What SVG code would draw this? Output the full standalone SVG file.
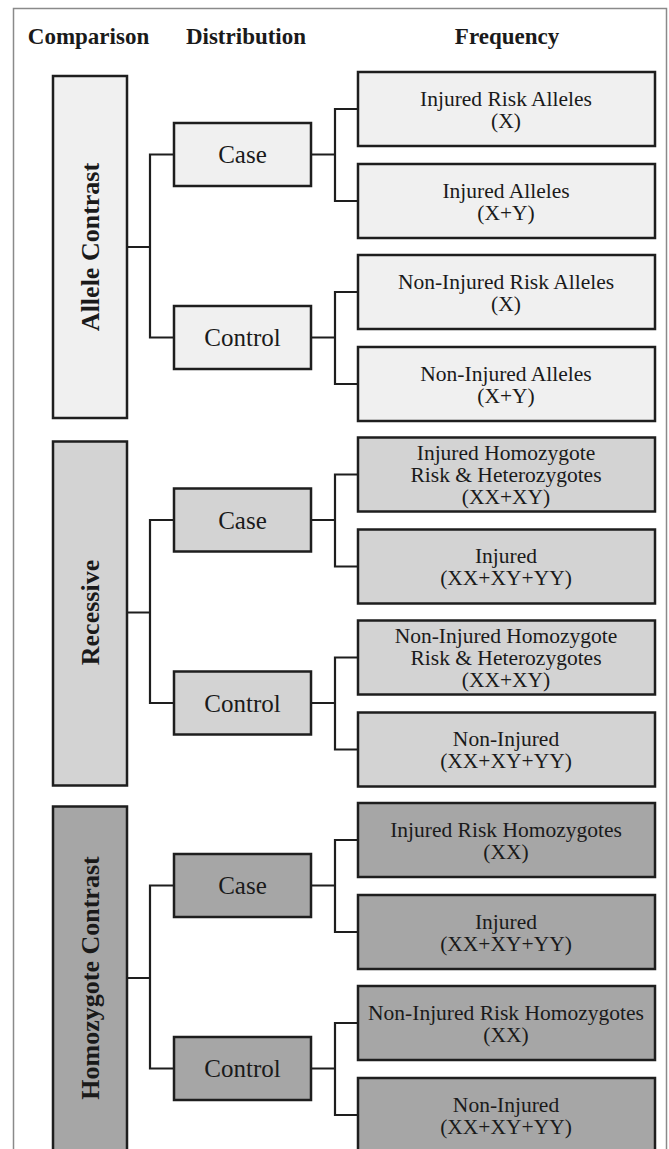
<svg xmlns="http://www.w3.org/2000/svg" width="669" height="1149" viewBox="0 0 669 1149">
<style>
.bx{stroke:#1e1e1e;stroke-width:2.5}
.s1{fill:#f0f0f0}.s2{fill:#d3d3d3}.s3{fill:#a6a6a6}
.t{fill:#1a1a1a;text-anchor:middle}
.f{font-size:21.5px}.d{font-size:25px}
.h{font-size:23px;font-weight:bold}
.c{font-size:26px;font-weight:bold}
.ln{fill:none;stroke:#1e1e1e;stroke-width:2.2}
</style>
<rect width="669" height="1149" fill="#ffffff"/>
<rect x="13.5" y="8.5" width="653" height="1170" fill="none" stroke="#8a8a8a" stroke-width="1.5"/>
<g font-family="'Liberation Serif', 'DejaVu Serif', serif">
<g id="headers">
<text class="t h" x="88.5" y="44">Comparison</text>
<text class="t h" x="246" y="44">Distribution</text>
<text class="t h" x="507" y="44">Frequency</text>
</g>
<g id="connectors">
<g transform="translate(0,72)">
<path class="ln" d="M127 175H150M174 82.5H150V265.5H174M311 82.5H335M357 37H335V129H357M311 265.5H335M357 220H335V312H357"/>
</g>
<g transform="translate(0,437.5)">
<path class="ln" d="M127 175H150M174 82.5H150V265.5H174M311 82.5H335M357 37H335V129H357M311 265.5H335M357 220H335V312H357"/>
</g>
<g transform="translate(0,803)">
<path class="ln" d="M127 175H150M174 82.5H150V265.5H174M311 82.5H335M357 37H335V129H357M311 265.5H335M357 220H335V312H357"/>
</g>
</g>
<g id="allele-contrast">
<rect class="bx s1" x="53" y="76" width="74" height="342"/>
<text class="t c" transform="translate(99,247) rotate(-90)">Allele Contrast</text>
</g>
<g id="ac-case">
<rect class="bx s1" x="174" y="123" width="137" height="63"/>
<text class="t d" x="242.5" y="163">Case</text>
</g>
<g id="ac-control">
<rect class="bx s1" x="174" y="306" width="137" height="63"/>
<text class="t d" x="242.5" y="346">Control</text>
</g>
<g id="ac-f1">
<rect class="bx s1" x="358" y="72" width="297" height="74"/>
<text class="t f" x="506" y="105.5">Injured Risk Alleles</text>
<text class="t f" x="506" y="127.5">(X)</text>
</g>
<g id="ac-f2">
<rect class="bx s1" x="358" y="164" width="297" height="74"/>
<text class="t f" x="506" y="197.5">Injured Alleles</text>
<text class="t f" x="506" y="219.5">(X+Y)</text>
</g>
<g id="ac-f3">
<rect class="bx s1" x="358" y="255" width="297" height="74"/>
<text class="t f" x="506" y="288.5">Non-Injured Risk Alleles</text>
<text class="t f" x="506" y="310.5">(X)</text>
</g>
<g id="ac-f4">
<rect class="bx s1" x="358" y="347" width="297" height="74"/>
<text class="t f" x="506" y="380.5">Non-Injured Alleles</text>
<text class="t f" x="506" y="402.5">(X+Y)</text>
</g>
<g id="recessive">
<rect class="bx s2" x="53" y="441.5" width="74" height="344"/>
<text class="t c" transform="translate(99,612.5) rotate(-90)">Recessive</text>
</g>
<g id="re-case">
<rect class="bx s2" x="174" y="488.5" width="137" height="63"/>
<text class="t d" x="242.5" y="528.5">Case</text>
</g>
<g id="re-control">
<rect class="bx s2" x="174" y="671.5" width="137" height="63"/>
<text class="t d" x="242.5" y="711.5">Control</text>
</g>
<g id="re-f1">
<rect class="bx s2" x="358" y="437.5" width="297" height="74"/>
<text class="t f" x="506" y="459.5">Injured Homozygote</text>
<text class="t f" x="506" y="481.5">Risk &amp; Heterozygotes</text>
<text class="t f" x="506" y="503.5">(XX+XY)</text>
</g>
<g id="re-f2">
<rect class="bx s2" x="358" y="529.5" width="297" height="74"/>
<text class="t f" x="506" y="563">Injured</text>
<text class="t f" x="506" y="585">(XX+XY+YY)</text>
</g>
<g id="re-f3">
<rect class="bx s2" x="358" y="620.5" width="297" height="74"/>
<text class="t f" x="506" y="642.5">Non-Injured Homozygote</text>
<text class="t f" x="506" y="664.5">Risk &amp; Heterozygotes</text>
<text class="t f" x="506" y="686.5">(XX+XY)</text>
</g>
<g id="re-f4">
<rect class="bx s2" x="358" y="712.5" width="297" height="74"/>
<text class="t f" x="506" y="746">Non-Injured</text>
<text class="t f" x="506" y="768">(XX+XY+YY)</text>
</g>
<g id="homozygote-contrast">
<rect class="bx s3" x="53" y="806.5" width="74" height="360"/>
<text class="t c" transform="translate(99,978) rotate(-90)">Homozygote Contrast</text>
</g>
<g id="hc-case">
<rect class="bx s3" x="174" y="854" width="137" height="63"/>
<text class="t d" x="242.5" y="894">Case</text>
</g>
<g id="hc-control">
<rect class="bx s3" x="174" y="1037" width="137" height="63"/>
<text class="t d" x="242.5" y="1077">Control</text>
</g>
<g id="hc-f1">
<rect class="bx s3" x="358" y="803" width="297" height="74"/>
<text class="t f" x="506" y="836.5">Injured Risk Homozygotes</text>
<text class="t f" x="506" y="858.5">(XX)</text>
</g>
<g id="hc-f2">
<rect class="bx s3" x="358" y="895" width="297" height="74"/>
<text class="t f" x="506" y="928.5">Injured</text>
<text class="t f" x="506" y="950.5">(XX+XY+YY)</text>
</g>
<g id="hc-f3">
<rect class="bx s3" x="358" y="986" width="297" height="74"/>
<text class="t f" x="506" y="1019.5">Non-Injured Risk Homozygotes</text>
<text class="t f" x="506" y="1041.5">(XX)</text>
</g>
<g id="hc-f4">
<rect class="bx s3" x="358" y="1078" width="297" height="90"/>
<text class="t f" x="506" y="1111.5">Non-Injured</text>
<text class="t f" x="506" y="1133.5">(XX+XY+YY)</text>
</g>
</g>
</svg>
